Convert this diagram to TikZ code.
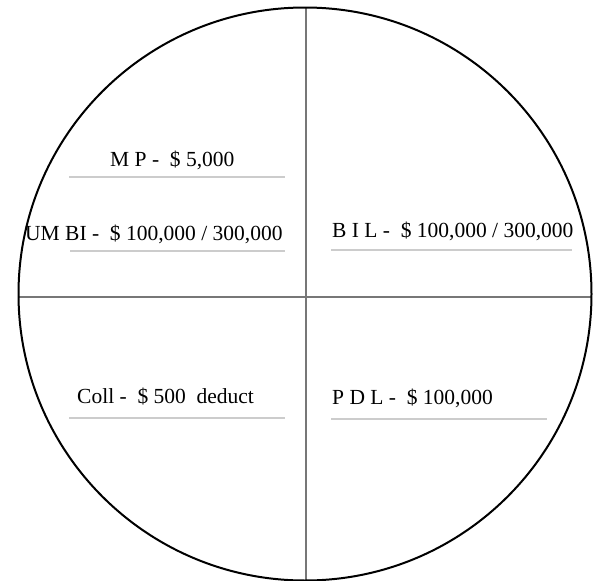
\documentclass[tikz,border=0pt]{standalone}
\usepackage{fontspec}
\setmainfont{Liberation Serif}
\definecolor{axisgray}{HTML}{777777}
\definecolor{rulegray}{HTML}{CCCCCC}
\begin{document}
\begin{tikzpicture}[x=1pt,y=-1pt,
  lbl/.style={anchor=base west,inner sep=0pt,font=\fontsize{21.5}{24}\selectfont},
  rulel/.style={draw=rulegray,line width=1.3pt},
  axis/.style={draw=axisgray,line width=2pt},
  rim/.style={draw=black,line width=2pt}]
\useasboundingbox (0,0) rectangle (598,581);
\coordinate (c) at (305,294);
\coordinate (top) at (306,8);
\coordinate (bot) at (306,580);
\coordinate (lft) at (18.5,297);
\coordinate (rgt) at (591.5,297);
\draw[axis] (top) -- (bot);
\draw[axis] (lft) -- (rgt);
\draw[rim] (c) circle (286.5);
\node[lbl] (mp) at (110,166) {M P -\ \ \$ 5,000};
\node[lbl] (umbi) at (25,240) {UM BI -\ \ \$ 100,000 / 300,000};
\node[lbl] (bil) at (332,237) {B I L -\ \ \$ 100,000 / 300,000};
\node[lbl] (coll) at (77,403) {Coll -\ \ \$ 500\ \ deduct};
\node[lbl] (pdl) at (332,404) {P D L -\ \ \$ 100,000};
\coordinate (mpa) at (69,177); \coordinate (mpb) at (285,177);
\coordinate (uma) at (70,251); \coordinate (umb) at (285,251);
\coordinate (bia) at (331,250); \coordinate (bib) at (572,250);
\coordinate (coa) at (69,418); \coordinate (cob) at (285,418);
\coordinate (pda) at (331,419); \coordinate (pdb) at (547,419);
\draw[rulel] (mpa) -- (mpb);
\draw[rulel] (uma) -- (umb);
\draw[rulel] (bia) -- (bib);
\draw[rulel] (coa) -- (cob);
\draw[rulel] (pda) -- (pdb);
\end{tikzpicture}
\end{document}
